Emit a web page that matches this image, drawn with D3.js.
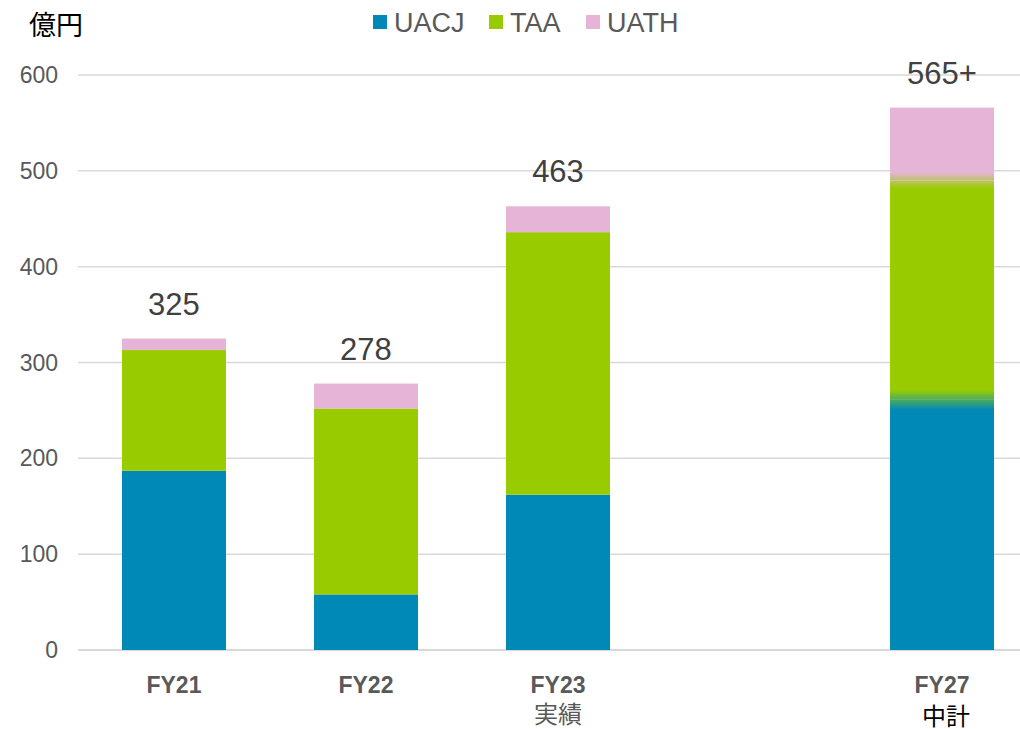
<!DOCTYPE html>
<html>
<head>
<meta charset="utf-8">
<script src="https://cdn.jsdelivr.net/npm/d3@7"></script>
<style>
  body { margin: 0; background: #fff; }
  svg { display: block; font-family: Arial, "Liberation Sans", "Noto Sans CJK JP", sans-serif; }
</style>
</head>
<body>
<div id="chart"></div>
<script>
// data
const categories = ["FY21", "FY22", "FY23", "gap", "FY27"]
const subLabels = ["", "", "実績", "", "中計"]
const uacj = [187, 58, 162, null, 261]
const taa = [126, 194, 274, null, 229]
const uath = [12, 26, 27, null, 76]
const totals = ["325", "278", "463", "", "565+"]
const seriesNames = ["UACJ", "TAA", "UATH"]
const colors = ["#0089B7", "#99CC00", "#E6B4D6"]
const yTicks = [0, 100, 200, 300, 400, 500, 600]

const width = 1020, height = 729

const svg = d3.select("#chart").append("svg")
  .attr("width", width)
  .attr("height", height)

const x = d3.scaleBand()
  .domain(categories)
  .range([78, 1038])
  .paddingInner(0.4583)
  .paddingOuter(0.229)

const y = d3.scaleLinear()
  .domain([0, 600])
  .range([650, 75])

// grid lines
svg.append("g")
  .selectAll("line")
  .data(yTicks)
  .join("line")
  .attr("x1", 78)
  .attr("x2", 1020)
  .attr("y1", d => y(d))
  .attr("y2", d => y(d))
  .attr("stroke", "#d9d9d9")
  .attr("stroke-width", d => d === 0 ? 2 : 1.5)

// y axis labels
svg.append("g")
  .selectAll("text")
  .data(yTicks)
  .join("text")
  .attr("x", 58)
  .attr("y", d => y(d))
  .attr("dy", "0.35em")
  .attr("text-anchor", "end")
  .attr("fill", "#595959")
  .style("font-size", "23px")
  .text(d => d)

svg.append("text")
  .attr("x", 29)
  .attr("y", 35)
  .attr("fill", "#000")
  .style("font-size", "27px")
  .style("font-family", "'Noto Sans CJK JP', sans-serif")
  .text("億円")

// stacked data
const rows = categories.map((c, i) => ({ cat: c, UACJ: uacj[i] || 0, TAA: taa[i] || 0, UATH: uath[i] || 0 }))
  .filter(r => r.cat !== "gap")
const stacked = d3.stack().keys(seriesNames)(rows)

// soft gradient used for the FY27 plan bar
const defs = svg.append("defs")
const planRow = rows.find(r => r.cat === "FY27")
const b1 = y(planRow.UACJ)
const b2 = y(planRow.UACJ + planRow.TAA)
const grad = defs.append("linearGradient")
  .attr("id", "plan")
  .attr("gradientUnits", "userSpaceOnUse")
  .attr("x1", 0).attr("x2", 0)
  .attr("y1", y(0)).attr("y2", y(planRow.UACJ + planRow.TAA + planRow.UATH))
const span = y(0) - y(planRow.UACJ + planRow.TAA + planRow.UATH)
const off = v => (y(0) - v) / span
grad.selectAll("stop")
  .data([
    [0, colors[0]], [off(b1 + 10), colors[0]], [off(b1 - 10), colors[1]],
    [off(b2 + 8), colors[1]], [off(b2 - 8), colors[2]], [1, colors[2]]
  ])
  .join("stop")
  .attr("offset", d => d[0])
  .attr("stop-color", d => d[1])

svg.append("g")
  .selectAll("g")
  .data(stacked)
  .join("g")
  .attr("fill", (d, i) => colors[i])
  .selectAll("rect")
  .data(d => d)
  .join("rect")
  .attr("x", d => x(d.data.cat))
  .attr("width", x.bandwidth())
  .attr("y", d => y(d[1]))
  .attr("height", d => y(d[0]) - y(d[1]))
  .attr("fill", d => d.data.cat === "FY27" ? "url(#plan)" : null)

// totals
svg.append("g")
  .selectAll("text")
  .data(rows)
  .join("text")
  .attr("x", d => x(d.cat) + x.bandwidth() / 2)
  .attr("y", d => y(d.UACJ + d.TAA + d.UATH) - 24)
  .attr("text-anchor", "middle")
  .attr("fill", "#404040")
  .style("font-size", "31px")
  .text(d => totals[categories.indexOf(d.cat)])

// category labels
const catG = svg.append("g")
catG.selectAll("text.cat")
  .data(rows)
  .join("text")
  .attr("class", "cat")
  .attr("x", d => x(d.cat) + x.bandwidth() / 2)
  .attr("y", 693)
  .attr("text-anchor", "middle")
  .attr("fill", "#595959")
  .style("font-size", "23px")
  .style("font-weight", "bold")
  .text(d => d.cat)

catG.selectAll("text.sub")
  .data(rows.filter(d => subLabels[categories.indexOf(d.cat)]))
  .join("text")
  .attr("class", "sub")
  .attr("x", d => x(d.cat) + x.bandwidth() / 2 + (d.cat === "FY27" ? 4 : 0))
  .attr("y", d => d.cat === "FY27" ? 725 : 723)
  .attr("text-anchor", "middle")
  .attr("fill", d => d.cat === "FY27" ? "#000" : "#595959")
  .style("font-size", "24px")
  .style("font-family", "'Noto Sans CJK JP', sans-serif")
  .text(d => subLabels[categories.indexOf(d.cat)])

// legend
const legendX = [373, 489, 586]
const legend = svg.append("g")
  .selectAll("g")
  .data(seriesNames)
  .join("g")
  .attr("transform", (d, i) => `translate(${legendX[i]},15)`)
legend.append("rect")
  .attr("width", 14)
  .attr("height", 14)
  .attr("fill", (d, i) => colors[i])
legend.append("text")
  .attr("x", 21)
  .attr("y", 7)
  .attr("dy", "0.36em")
  .attr("fill", "#595959")
  .style("font-size", "27px")
  .text(d => d)
</script>
</body>
</html>
